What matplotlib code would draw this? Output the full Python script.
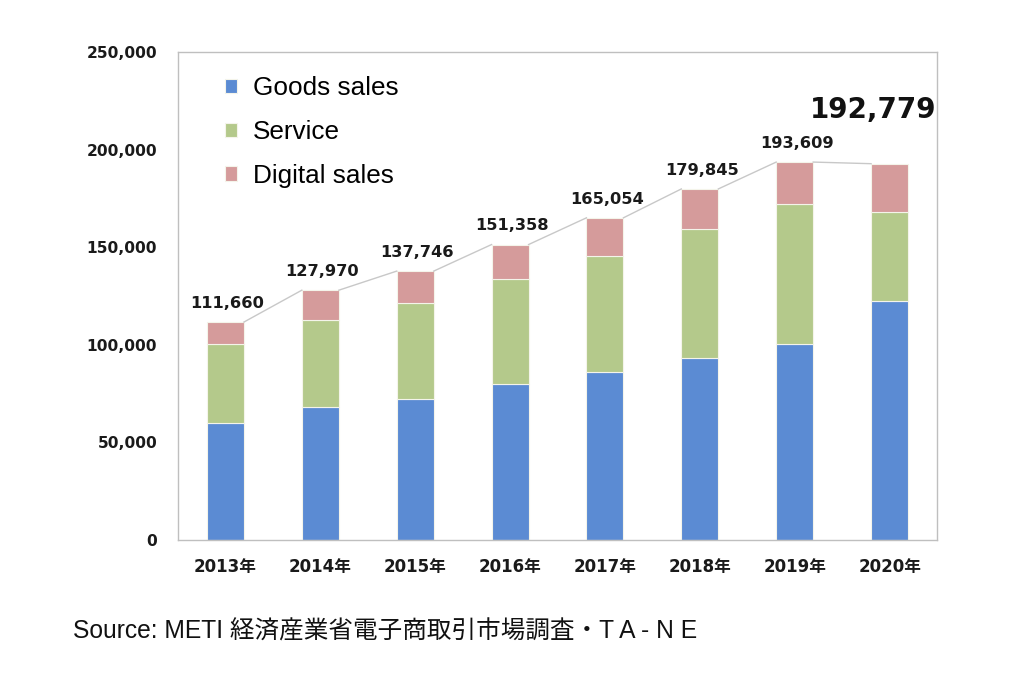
import matplotlib.pyplot as plt
import numpy as np

# Data (100 million yen)
years = ['2013年', '2014年', '2015年', '2016年', '2017年', '2018年', '2019年', '2020年']
goods = [59931, 68043, 72398, 80043, 86008, 92992, 100515, 122333]
service = [40484, 44816, 49014, 53532, 59568, 66471, 71672, 45832]
digital = [11245, 15111, 16334, 17783, 19478, 20382, 21422, 24614]
series_names = ['Goods sales', 'Service', 'Digital sales']
colors = ['#5B8BD3', '#B4C98B', '#D59B9B']

goods = np.array(goods)
service = np.array(service)
digital = np.array(digital)
totals = goods + service + digital
x = np.arange(len(years))
width = 0.39

fig = plt.figure(figsize=(10.24, 6.85), dpi=100)
ax = fig.add_axes([178 / 1024, 1 - 540 / 685, (937 - 178) / 1024, (540 - 52) / 685])

edge = dict(edgecolor='#F4F4EA', linewidth=0.8)
b1 = ax.bar(x, goods, width, color=colors[0], **edge)
b2 = ax.bar(x, service, width, bottom=goods, color=colors[1], **edge)
b3 = ax.bar(x, digital, width, bottom=goods + service, color=colors[2], **edge)

# series lines between bar tops
for i in range(len(x) - 1):
    ax.plot([x[i] + width / 2, x[i + 1] - width / 2], [totals[i], totals[i + 1]],
            color='#C8C8C8', linewidth=1, zorder=1)

# total labels
for i in range(len(x) - 1):
    ax.annotate(f'{totals[i]:,}', (x[i], totals[i]), xytext=(1.5, 13.5),
                textcoords='offset points', ha='center', va='center',
                fontsize=11.7, fontweight='bold', color='#1a1a1a',
                family='DejaVu Sans')
ax.annotate(f'{totals[-1]:,}', (x[-1], totals[-1]), xytext=(-12, 39),
            textcoords='offset points', ha='center', va='center',
            fontsize=20, fontweight='bold', color='#111111', family='DejaVu Sans')

ax.set_xlim(-0.5, len(x) - 0.5)
ax.set_ylim(0, 250000)
ax.set_yticks(np.arange(0, 250001, 50000))
ax.set_yticklabels([f'{v:,}' for v in range(0, 250001, 50000)])
ax.set_xticks(x)
ax.set_xticklabels(years)
for lab in ax.get_yticklabels():
    lab.set_fontfamily('DejaVu Sans')
    lab.set_fontweight('bold')
    lab.set_fontsize(11.2)
    lab.set_color('#1a1a1a')
for lab in ax.get_xticklabels():
    lab.set_fontfamily(['DejaVu Sans', 'Noto Sans CJK JP'])
    lab.set_fontweight('bold')
    lab.set_fontsize(12)
    lab.set_color('#1a1a1a')
ax.tick_params(axis='y', length=0, pad=15)
ax.tick_params(axis='x', length=0, pad=13)

for sp in ax.spines.values():
    sp.set_color('#BFBFBF')
    sp.set_linewidth(1)

ax.legend([b1, b2, b3], series_names, loc='upper left',
          bbox_to_anchor=(212 / 1024, 1 - 63 / 685), bbox_transform=fig.transFigure,
          frameon=False, handlelength=0.46, handleheight=0.46,
          handletextpad=0.6, labelspacing=0.76, borderpad=0,
          prop={'family': 'Liberation Sans', 'size': 18.8})

fig.text(73 / 1024, 1 - 632 / 685, 'Source: METI 経済産業省電子商取引市場調査・T A - N E',
         fontsize=17.7, va='center', ha='left', color='#111111',
         family=['Liberation Sans', 'Noto Sans CJK JP'])

fig.savefig('out.png', dpi=100, facecolor='white')
